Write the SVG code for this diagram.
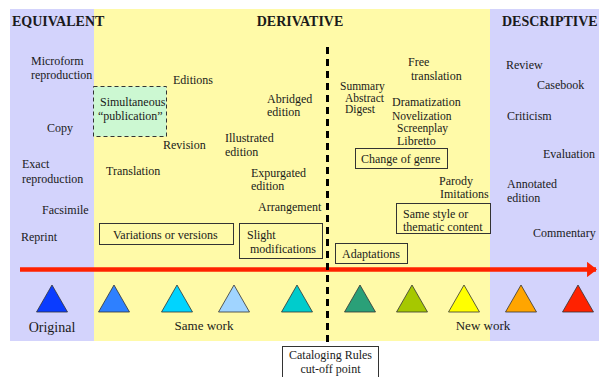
<svg xmlns="http://www.w3.org/2000/svg" width="599" height="377" viewBox="0 0 599 377" font-family="'Liberation Serif', serif">
<style>
text{font-family:"Liberation Serif","Times New Roman",serif;font-size:12px;fill:#1a1a1a}
.h{font-weight:bold;font-size:14px}
.b{font-size:14px}
.m{font-size:13px}
.s{font-size:11.5px}
.box{fill:none;stroke:#333;stroke-width:1}
.tri{stroke:#333;stroke-width:0.8}
</style>
<defs>
<marker id="ah" viewBox="0 0 10 10" refX="9" refY="5" markerWidth="2.2" markerHeight="3.4" orient="auto" markerUnits="strokeWidth" preserveAspectRatio="none">
<path d="M0,0 L10,5 L0,10 Z" fill="#ff2200"/>
</marker>
</defs>
<rect width="599" height="377" fill="#fff"/>
<g id="panels">
<rect x="10" y="9" width="84" height="332" fill="#d3d3fc"/>
<rect x="94" y="9" width="396" height="332" fill="#fffaa8"/>
<rect x="490" y="9" width="109" height="332" fill="#d3d3fc"/>
</g>
<g id="headers">
<text class="h" x="12" y="26">EQUIVALENT</text>
<text class="h" x="300" y="26" text-anchor="middle">DERIVATIVE</text>
<text class="h" x="502" y="26">DESCRIPTIVE</text>
</g>
<g id="connectors">
<line x1="20" y1="269.5" x2="596" y2="269.5" stroke="#ff2200" stroke-width="4.5" marker-end="url(#ah)"/>
<line x1="327.5" y1="47" x2="327.5" y2="347" stroke="#000" stroke-width="3" stroke-dasharray="7,5"/>
</g>
<g id="equivalent">
<text x="31" y="65">Microform</text>
<text x="31" y="79">reproduction</text>
<text x="47" y="132">Copy</text>
<text x="22" y="168">Exact</text>
<text x="22" y="183">reproduction</text>
<text x="42" y="214">Facsimile</text>
<text x="21" y="241">Reprint</text>
</g>
<g id="simultaneous">
<rect x="93.5" y="86.5" width="73" height="50" fill="#ccf8d2" stroke="#333" stroke-width="1" stroke-dasharray="4,3"/>
<text x="100" y="106">Simultaneous</text>
<text x="98" y="120">“publication”</text>
</g>
<g id="derivative-same">
<text x="173" y="84">Editions</text>
<text x="163" y="149">Revision</text>
<text x="106" y="175">Translation</text>
<text x="225" y="142">Illustrated</text>
<text x="225" y="156">edition</text>
<text x="267" y="103">Abridged</text>
<text x="267" y="116">edition</text>
<text x="251" y="177">Expurgated</text>
<text x="251" y="190">edition</text>
<text x="258" y="211">Arrangement</text>
</g>
<g id="variations">
<rect class="box" x="99.5" y="223.5" width="134" height="21"/>
<text x="113" y="239">Variations or versions</text>
</g>
<g id="slight">
<rect class="box" x="239.5" y="223.5" width="83" height="35"/>
<text x="247" y="239">Slight</text>
<text x="250" y="253">modifications</text>
</g>
<g id="derivative-new">
<text class="s" x="340" y="90">Summary</text>
<text class="s" x="345" y="101.5">Abstract</text>
<text class="s" x="345" y="113">Digest</text>
<text x="408" y="66">Free</text>
<text x="411" y="80">translation</text>
<text x="392" y="106">Dramatization</text>
<text class="s" x="392" y="119.5">Novelization</text>
<text class="s" x="397" y="131.5">Screenplay</text>
<text x="397" y="145">Libretto</text>
<text x="439" y="185">Parody</text>
<text x="440" y="198">Imitations</text>
</g>
<g id="change-genre">
<rect class="box" x="355.5" y="148.5" width="92" height="20"/>
<text x="361" y="163">Change of genre</text>
</g>
<g id="same-style">
<rect class="box" x="396.5" y="203.5" width="94" height="30"/>
<text x="403" y="217.5">Same style or</text>
<text x="403" y="230.5">thematic content</text>
</g>
<g id="adaptations">
<rect class="box" x="335.5" y="243.5" width="72" height="20"/>
<text x="342" y="258">Adaptations</text>
</g>
<g id="descriptive">
<text x="506" y="69">Review</text>
<text x="537" y="89">Casebook</text>
<text x="507" y="120">Criticism</text>
<text x="543" y="158">Evaluation</text>
<text x="507" y="188">Annotated</text>
<text x="507" y="202">edition</text>
<text x="533" y="237">Commentary</text>
</g>
<g id="triangles">
<polygon class="tri" points="52,285 36.5,312 67.5,312" fill="#0a3cff"/>
<polygon class="tri" points="114,285 98.5,312 129.5,312" fill="#2e80ff"/>
<polygon class="tri" points="177,285 161.5,312 192.5,312" fill="#00d4ff"/>
<polygon class="tri" points="234,285 218.5,312 249.5,312" fill="#a0d4ff"/>
<polygon class="tri" points="297,285 281.5,312 312.5,312" fill="#00cccc"/>
<polygon class="tri" points="360,285 344.5,312 375.5,312" fill="#2aa078"/>
<polygon class="tri" points="412,285 396.5,312 427.5,312" fill="#a6c800"/>
<polygon class="tri" points="464,285 448.5,312 479.5,312" fill="#ffff00"/>
<polygon class="tri" points="521,285 505.5,312 536.5,312" fill="#ffa500"/>
<polygon class="tri" points="578,285 562.5,312 593.5,312" fill="#ff2200"/>
</g>
<g id="labels">
<text class="b" x="52" y="332" text-anchor="middle">Original</text>
<text class="m" x="204" y="330" text-anchor="middle">Same work</text>
<text class="m" x="483" y="330" text-anchor="middle">New work</text>
</g>
<g id="cutoff">
<rect x="282.5" y="346.5" width="96" height="35" fill="#fff" stroke="#333" stroke-width="1"/>
<text x="330.5" y="359" text-anchor="middle">Cataloging Rules</text>
<text x="330.5" y="373" text-anchor="middle">cut-off point</text>
</g>
</svg>
